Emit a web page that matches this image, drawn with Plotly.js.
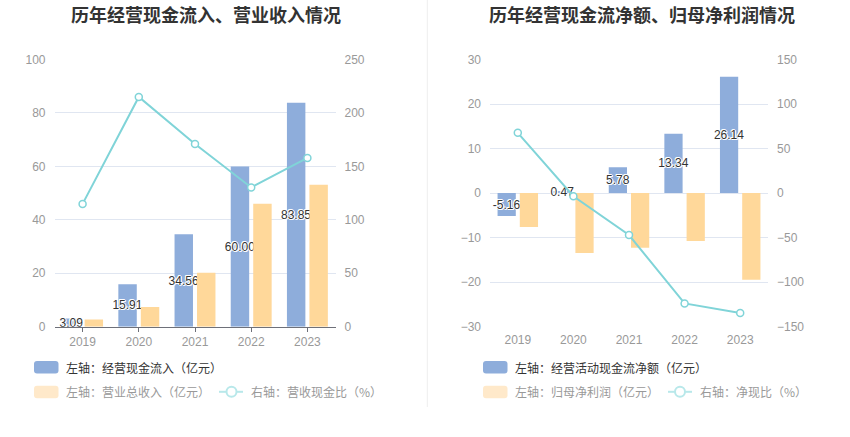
<!DOCTYPE html>
<html>
<head>
<meta charset="utf-8">
<script src="https://cdn.plot.ly/plotly-3.0.1.min.js"></script>
<style>html,body{margin:0;padding:0;background:#fff;}#chart{width:850px;height:437px;}</style>
</head>
<body>
<div id="chart"></div>
<script>
// ---- data ----
const years = ['2019', '2020', '2021', '2022', '2023'];
const cashInflow = [3.09, 15.91, 34.56, 60.00, 83.85];      // 经营现金流入（亿元）
const totalRevenue = [2.69, 7.40, 20.21, 46.05, 53.10];     // 营业总收入（亿元）
const revenueCashRatio = [114.9, 215.0, 171.0, 130.3, 157.9]; // 营收现金比（%）
const netOpCash = [-5.16, 0.47, 5.78, 13.34, 26.14];        // 经营活动现金流净额（亿元）
const netProfit = [-7.62, -13.45, -12.26, -10.77, -19.44];  // 归母净利润（亿元）
const netCashRatio = [67.7, -3.5, -47.1, -123.9, -134.5];   // 净现比（%）

const titles = ['历年经营现金流入、营业收入情况', '历年经营现金流净额、归母净利润情况'];
const legendLeft = ['左轴：经营现金流入（亿元）', '左轴：营业总收入（亿元）', '右轴：营收现金比（%）'];
const legendRight = ['左轴：经营活动现金流净额（亿元）', '左轴：归母净利润（亿元）', '右轴：净现比（%）'];

// ---- style ----
const W = 850, H = 437;
const FONT = '"Noto Sans CJK SC", "Noto Sans", sans-serif';
const NUMFONT = '"Liberation Sans", "Noto Sans CJK SC", sans-serif';
const BLUE = '#8EADDB', ORANGE = '#FFD89A', CYAN = '#80D4D8';
const GRID = '#E0E6F1', AXIS = '#6E7079', TICKC = '#999999';
const px = v => v / W;
const py = v => 1 - v / H;
const yDom = [py(326.7), py(59.5)];
const labelFont = {family: NUMFONT, size: 12, color: '#333',
  shadow: '1px 0 0 #fff, -1px 0 0 #fff, 0 1px 0 #fff, 0 -1px 0 #fff, 1px 1px 0 #fff, -1px -1px 0 #fff'};

function barTrace(y, color, xa, ya, withText) {
  const t = {type: 'bar', x: years, y: y, xaxis: xa, yaxis: ya,
    marker: {color: color, line: {width: 0}}, hoverinfo: 'skip', showlegend: false};
  if (withText) {
    t.texttemplate = '%{y:.2f}';
    t.textposition = 'inside';
    t.insidetextanchor = 'middle';
    t.textangle = 0;
    t.constraintext = 'none';
    t.textfont = labelFont;
    t.insidetextfont = labelFont;
  }
  return t;
}
function lineTrace(y, xa, ya) {
  return {type: 'scatter', mode: 'lines+markers', x: years, y: y, xaxis: xa, yaxis: ya,
    line: {color: CYAN, width: 2},
    marker: {symbol: 'circle', size: 7, color: '#fff', line: {color: CYAN, width: 1.5}},
    hoverinfo: 'skip', showlegend: false, cliponaxis: false};
}

const data = [
  barTrace(cashInflow, BLUE, 'x', 'y', true),
  barTrace(totalRevenue, ORANGE, 'x', 'y', false),
  lineTrace(revenueCashRatio, 'x', 'y2'),
  barTrace(netOpCash, BLUE, 'x3', 'y3', true),
  barTrace(netProfit, ORANGE, 'x3', 'y3', false),
  lineTrace(netCashRatio, 'x3', 'y4'),
];

const tickFont = {family: NUMFONT, size: 12, color: TICKC};
function yAxis(range, dtick, side, extra) {
  return Object.assign({range: range, dtick: dtick, side: side, tickfont: tickFont,
    showgrid: side === 'left', gridcolor: GRID, gridwidth: 1, zeroline: false, showline: false,
    ticks: '', ticklabelstandoff: 8, fixedrange: true, domain: yDom}, extra || {});
}

// legend drawn with shapes + annotations
const shapes = [];
const annotations = [];
function roundRect(x0, y0, x1, y1, r, color) {
  const X0 = px(x0), X1 = px(x1), Y0 = py(y0), Y1 = py(y1), rx = px(r) , ry = r / H;
  const path = `M${X0 + rx},${Y0} L${X1 - rx},${Y0} Q${X1},${Y0} ${X1},${Y0 - ry} L${X1},${Y1 + ry} Q${X1},${Y1} ${X1 - rx},${Y1} L${X0 + rx},${Y1} Q${X0},${Y1} ${X0},${Y1 + ry} L${X0},${Y0 - ry} Q${X0},${Y0} ${X0 + rx},${Y0} Z`;
  shapes.push({type: 'path', xref: 'paper', yref: 'paper', path: path, fillcolor: color, line: {width: 0}, layer: 'above'});
}
function legendText(x, y, text, color) {
  annotations.push({xref: 'paper', yref: 'paper', x: px(x), y: py(y), xanchor: 'left', yanchor: 'middle',
    text: text, showarrow: false, font: {family: FONT, size: 12, color: color}});
}
function lineIcon(x0, x1, cx, y) {
  shapes.push({type: 'line', xref: 'paper', yref: 'paper', x0: px(x0), x1: px(x1), y0: py(y), y1: py(y),
    line: {color: '#B8E8EA', width: 2}, layer: 'above'});
  shapes.push({type: 'circle', xref: 'paper', yref: 'paper', x0: px(cx - 5), x1: px(cx + 5), y0: py(y + 5), y1: py(y - 5),
    fillcolor: '#fff', line: {color: '#B8E8EA', width: 2}, layer: 'above'});
}
function legendBlock(sx, labels, lineX0, lineX1, lineCx, lineTextX) {
  roundRect(sx, 361, sx + 24.5, 373.5, 3, BLUE);
  legendText(sx + 29.5, 367.3, labels[0], '#333');
  roundRect(sx, 385.7, sx + 24.5, 398.2, 3, '#FFE9CA');
  legendText(sx + 29.5, 391.8, labels[1], '#999');
  lineIcon(lineX0, lineX1, lineCx, 391.8);
  legendText(lineTextX, 391.8, labels[2], '#999');
}
legendBlock(34, legendLeft, 219, 243, 231.5, 249);
legendBlock(483, legendRight, 668, 692, 680, 698);

// divider
shapes.push({type: 'line', xref: 'paper', yref: 'paper', x0: px(427.3), x1: px(427.3), y0: py(0), y1: py(407),
  line: {color: '#EEEEEE', width: 1}});

// titles
annotations.push({xref: 'paper', yref: 'paper', x: px(206), y: py(14), xanchor: 'center', yanchor: 'middle',
  text: '<b>' + titles[0] + '</b>', showarrow: false, font: {family: FONT, size: 18, color: '#333'}});
annotations.push({xref: 'paper', yref: 'paper', x: px(642), y: py(14), xanchor: 'center', yanchor: 'middle',
  text: '<b>' + titles[1] + '</b>', showarrow: false, font: {family: FONT, size: 18, color: '#333'}});

const zeroPos = yDom[0] + (0 - (-30)) / 60 * (yDom[1] - yDom[0]);

const layout = {
  width: W, height: H, autosize: false,
  margin: {l: 0, r: 0, t: 0, b: 0, pad: 0},
  paper_bgcolor: '#fff', plot_bgcolor: 'rgba(0,0,0,0)',
  font: {family: FONT},
  showlegend: false,
  barmode: 'group', bargap: 0.2, bargroupgap: 0.18,
  xaxis: {domain: [px(54.5), px(335.5)], anchor: 'y', type: 'category', tickfont: tickFont,
    showline: true, linecolor: AXIS, linewidth: 1, ticks: 'outside', ticklen: 4, tickcolor: AXIS,
    showgrid: false, zeroline: false, ticklabelstandoff: 0, fixedrange: true},
  yaxis: yAxis([0, 100], 20, 'left', {anchor: 'x'}),
  yaxis2: yAxis([0, 250], 50, 'right', {anchor: 'x', overlaying: 'y'}),
  xaxis3: {domain: [px(490), px(768)], anchor: 'y3', type: 'category', tickfont: tickFont,
    showline: false, ticks: '', showgrid: false, zeroline: false, ticklabelstandoff: 4, fixedrange: true},
  xaxis5: {overlaying: 'x3', anchor: 'free', position: zeroPos, type: 'linear', range: [-0.5, years.length - 0.5],
    tickvals: years.map((_, i) => i), showticklabels: false, ticks: 'outside', ticklen: 4, tickcolor: AXIS,
    showline: true, linecolor: AXIS, linewidth: 1, showgrid: false, zeroline: false, fixedrange: true},
  yaxis3: yAxis([-30, 30], 10, 'left', {anchor: 'x3'}),
  yaxis4: yAxis([-150, 150], 50, 'right', {anchor: 'x3', overlaying: 'y3'}),
  shapes: shapes,
  annotations: annotations,
};

Plotly.newPlot('chart', data, layout, {displayModeBar: false, staticPlot: true});
</script>
</body>
</html>
